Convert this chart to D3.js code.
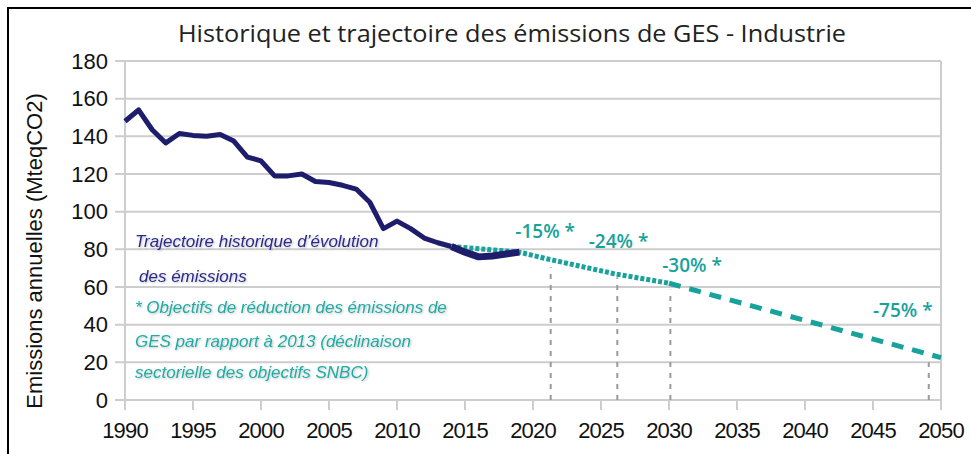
<!DOCTYPE html>
<html>
<head>
<meta charset="utf-8">
<script src="https://cdn.jsdelivr.net/npm/d3@7"></script>
<style>
  html, body { margin: 0; padding: 0; background: #fff; }
  #chart { width: 971px; height: 454px; }
</style>
</head>
<body>
<div id="chart"></div>
<script>
// historical emissions (MteqCO2)
const histYears = [1990, 1991, 1992, 1993, 1994, 1995, 1996, 1997, 1998, 1999,
  2000, 2001, 2002, 2003, 2004, 2005, 2006, 2007, 2008, 2009,
  2010, 2011, 2012, 2013, 2014];
const histValues = [148, 154, 143.5, 136.5, 141.5, 140.5, 140, 141, 137.5, 129,
  127, 119, 119, 120, 116, 115.5, 114, 112, 105, 91,
  95, 91, 86, 83.5, 81.5];

// recent years, drawn thicker
const recentYears = [2014, 2015, 2016, 2017, 2018, 2019];
const recentValues = [81.5, 78.5, 76, 76.5, 77.5, 78.5];

// SNBC trajectory: dotted until 2030, dashed after
const dottedYears = [2014, 2019, 2021, 2026, 2030];
const dottedValues = [81.5, 78.5, 75, 67, 62];
const dashedYears = [2030, 2050];
const dashedValues = [62, 22.5];

// target markers
const targetLabels = ['-15% *', '-24% *', '-30% *', '-75% *'];
const targetYears = [2021.3, 2026.2, 2030.1, 2049.1];
const targetTops = [70.5, 65, 58.5, 20];
const labelYears = [2018.7, 2024.1, 2029.5, 2045];
const labelValues = [86, 80.5, 68, 44];

const xTicks = d3.range(1990, 2051, 5);
const yTicks = d3.range(0, 181, 20);

const title = 'Historique et trajectoire des émissions de GES - Industrie';
const yTitle = 'Emissions annuelles (MteqCO2)';
const legendNavy = ['Trajectoire historique d\u2019évolution', 'des émissions'];
const legendTeal = ['* Objectifs de réduction des émissions de',
  'GES par rapport à 2013 (déclinaison', 'sectorielle des objectifs SNBC)'];

const W = 971, H = 454;
const navy = '#1e1d6b';
const teal = '#17a29b';
const tealText = '#22aaa4';
const grid = '#cdcdcd';

const svg = d3.select('#chart')
  .append('svg')
  .attr('width', W)
  .attr('height', H);

const defs = svg.append('defs');
const shadow = defs.append('filter').attr('id', 'soft').attr('x', '-5%').attr('y', '-30%')
  .attr('width', '110%').attr('height', '160%');
shadow.append('feDropShadow')
  .attr('dx', 1).attr('dy', 1).attr('stdDeviation', 0.8)
  .attr('flood-color', '#000').attr('flood-opacity', 0.25);

// frame
svg.append('rect')
  .attr('x', 8).attr('y', 8)
  .attr('width', 990).attr('height', 470)
  .attr('fill', 'none')
  .attr('stroke', '#000')
  .attr('stroke-width', 2);

const x = d3.scaleLinear().domain([1990, 2050]).range([125, 941]);
const y = d3.scaleLinear().domain([0, 180]).range([400, 61]);

// horizontal gridlines
svg.append('g')
  .selectAll('line')
  .data(yTicks)
  .enter()
  .append('line')
  .attr('x1', 115)
  .attr('x2', x(2050))
  .attr('y1', (d) => y(d))
  .attr('y2', (d) => y(d))
  .attr('stroke', grid)
  .attr('stroke-width', 2);

// x ticks below the axis
svg.append('g')
  .selectAll('line')
  .data(xTicks)
  .enter()
  .append('line')
  .attr('x1', (d) => x(d))
  .attr('x2', (d) => x(d))
  .attr('y1', y(0))
  .attr('y2', y(0) + 10)
  .attr('stroke', grid)
  .attr('stroke-width', 2);

// left axis and right border line
[1990, 2050].forEach((yr) => {
  svg.append('line')
    .attr('x1', x(yr)).attr('x2', x(yr))
    .attr('y1', y(180)).attr('y2', y(0) + 10)
    .attr('stroke', grid)
    .attr('stroke-width', 2);
});

// y labels
svg.append('g')
  .selectAll('text')
  .data(yTicks)
  .enter()
  .append('text')
  .attr('x', 108)
  .attr('y', (d) => y(d))
  .attr('dy', '0.35em')
  .attr('text-anchor', 'end')
  .attr('font-family', 'Liberation Sans, Arial, sans-serif')
  .attr('font-size', '22px')
  .attr('fill', '#111')
  .text((d) => d);

// x labels
svg.append('g')
  .selectAll('text')
  .data(xTicks)
  .enter()
  .append('text')
  .attr('x', (d) => x(d))
  .attr('y', 438)
  .attr('text-anchor', 'middle')
  .attr('font-family', 'Liberation Sans, Arial, sans-serif')
  .attr('font-size', '22px')
  .attr('letter-spacing', '-0.8px')
  .attr('fill', '#111')
  .text((d) => d);

// y title
svg.append('text')
  .attr('transform', 'translate(42,251) rotate(-90)')
  .attr('text-anchor', 'middle')
  .attr('font-family', 'Liberation Sans, Arial, sans-serif')
  .attr('font-size', '22px')
  .attr('fill', '#111')
  .text(yTitle);

// chart title
svg.append('text')
  .attr('x', 178)
  .attr('y', 42)
  .attr('font-family', 'Open Sans, sans-serif')
  .attr('font-size', '24px')
  .attr('textLength', 668)
  .attr('lengthAdjust', 'spacingAndGlyphs')
  .attr('fill', '#222')
  .text(title);

// target vertical markers
svg.append('g')
  .selectAll('line')
  .data(targetYears)
  .enter()
  .append('line')
  .attr('x1', (d) => x(d))
  .attr('x2', (d) => x(d))
  .attr('y1', y(0))
  .attr('y2', (d, i) => y(targetTops[i]))
  .attr('stroke', '#9a9a9a')
  .attr('stroke-width', 2)
  .attr('stroke-dasharray', '5,6');

const line = d3.line()
  .x((d) => x(d[0]))
  .y((d) => y(d[1]));

// historical line
svg.append('path')
  .datum(d3.zip(histYears, histValues))
  .attr('fill', 'none')
  .attr('stroke', navy)
  .attr('stroke-width', 5)
  .attr('stroke-linejoin', 'round')
  .attr('d', line);

// trajectory dotted
svg.append('path')
  .datum(d3.zip(dottedYears, dottedValues))
  .attr('fill', 'none')
  .attr('stroke', teal)
  .attr('stroke-width', 5)
  .attr('stroke-dasharray', '4,2')
  .attr('d', line);

// trajectory dashed
svg.append('path')
  .datum(d3.zip(dashedYears, dashedValues))
  .attr('fill', 'none')
  .attr('stroke', teal)
  .attr('stroke-width', 5)
  .attr('stroke-dasharray', '12,9')
  .attr('d', line);

// recent years thicker
svg.append('path')
  .datum(d3.zip(recentYears, recentValues))
  .attr('fill', 'none')
  .attr('stroke', navy)
  .attr('stroke-width', 7)
  .attr('stroke-linejoin', 'round')
  .attr('d', line);

// target labels
svg.append('g')
  .selectAll('text')
  .data(targetLabels)
  .enter()
  .append('text')
  .attr('x', (d, i) => x(labelYears[i]))
  .attr('y', (d, i) => y(labelValues[i]))
  .attr('font-family', 'Open Sans, sans-serif')
  .attr('font-size', '19px')
  .attr('font-weight', 600)
  .attr('fill', teal)
  .text((d) => d);

// legend notes
const legendX = [135, 139];
const navyBase = [247, 282];
legendNavy.forEach((t, i) => {
  svg.append('text')
    .attr('x', legendX[i])
    .attr('y', navyBase[i])
    .attr('font-family', 'Liberation Sans, Arial, sans-serif')
    .attr('font-style', 'italic')
    .attr('font-size', '17px')
    .attr('fill', '#2a2a8a')
    .attr('filter', 'url(#soft)')
    .text(t);
});
const tealBase = [313, 347, 378];
legendTeal.forEach((t, i) => {
  svg.append('text')
    .attr('x', 135)
    .attr('y', tealBase[i])
    .attr('font-family', 'Liberation Sans, Arial, sans-serif')
    .attr('font-style', 'italic')
    .attr('font-size', '17px')
    .attr('fill', tealText)
    .attr('filter', 'url(#soft)')
    .text(t);
});
</script>
</body>
</html>
